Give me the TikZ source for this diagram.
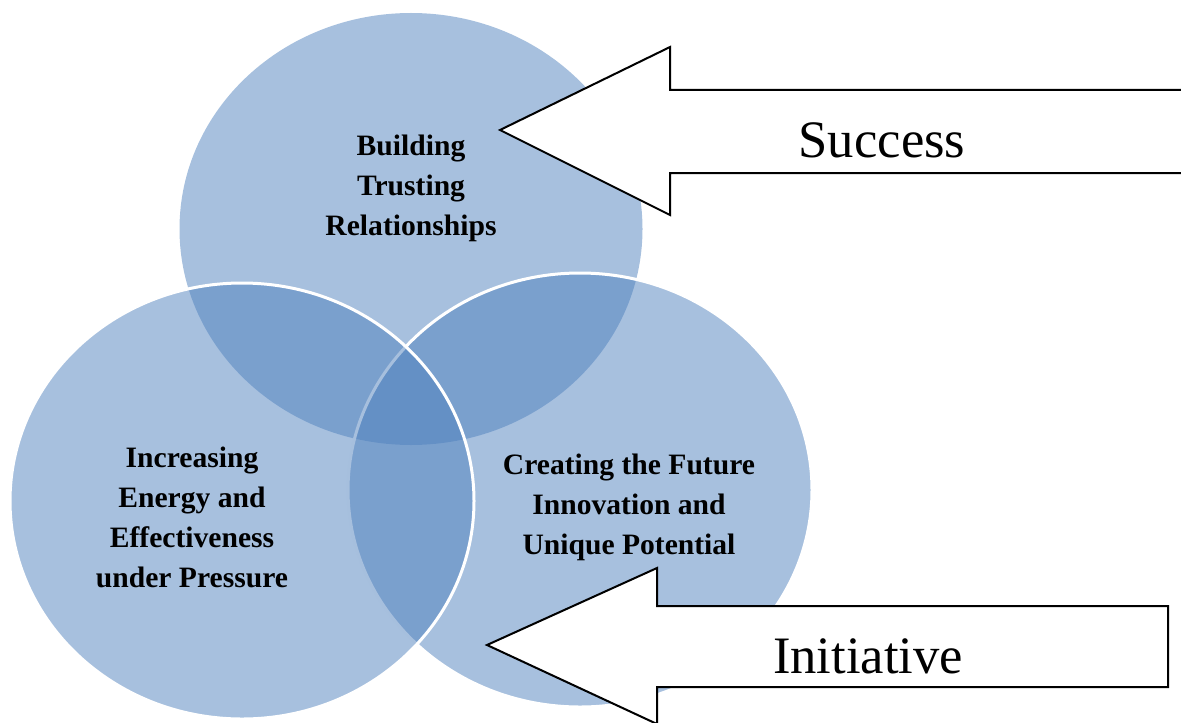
\documentclass[tikz,border=0pt]{standalone}
\usepackage{fontspec}
\setmainfont{Liberation Serif}
\usepackage{xcolor}
\usetikzlibrary{positioning}

\definecolor{vennblue}{HTML}{4F81BD}

\tikzset{
  bubble/.style={fill=vennblue, fill opacity=0.5, draw=white, line width=1.5pt},
  bubbletext/.style={font=\bfseries\fontsize{14.8}{20}\selectfont, align=center},
  blockarrow/.style={draw=black, fill=white, line width=1pt, line join=miter},
  arrowtext/.style={font=\fontsize{26.3}{30}\selectfont}
}

\begin{document}
\begin{tikzpicture}[x=0.5pt,y=-0.5pt]
        \useasboundingbox (0,0) rectangle (1181,722);
        \clip (0,0) rectangle (1181,722);
        % the three circles: top first, left last so its rim stays white
        \path[bubble, draw=none] (411,229) ellipse [x radius=231.5, y radius=216];
        \path[bubble] (580,490) ellipse [x radius=232, y radius=217];
        \path[bubble] (242,501) ellipse [x radius=232, y radius=218];
        \node[bubbletext] (trust) at (411,188) {Building\\Trusting\\Relationships};
        \node[bubbletext] (energy) at (192,517) {Increasing\\Energy and\\Effectiveness\\under Pressure};
        \node[bubbletext] (future) at (629,507) {Creating the Future\\Innovation and\\Unique Potential};
        % block arrows
        \draw[blockarrow] (1190,90) -- (670,90) -- (670,47) -- (500,130) -- (670,215) -- (670,173) -- (1190,173);
        \node[arrowtext] (success) at (882,140) {Success};
        \draw[blockarrow] (1168,606) -- (657,606) -- (657,568) -- (487,645) -- (657,724) -- (657,687) -- (1168,687) -- cycle;
        \node[arrowtext] (initiative) at (868,656) {Initiative};
    \end{tikzpicture}
\end{document}
